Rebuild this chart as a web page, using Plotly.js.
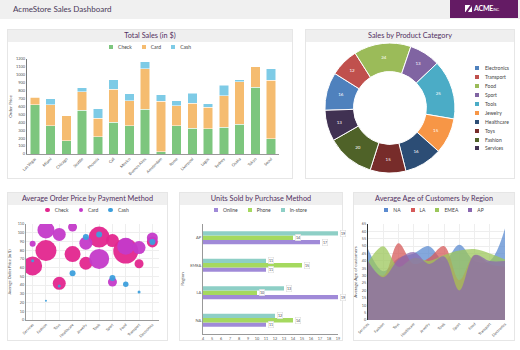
<!DOCTYPE html>
<html><head><meta charset="utf-8">
<script src="https://cdn.plot.ly/plotly-3.0.1.min.js"></script>
<style>
body{margin:0;width:520px;height:350px;background:#fff;font-family:Lato,"Open Sans",sans-serif;position:relative;overflow:hidden}
#header{position:absolute;left:0;top:0;width:520px;height:19px;background:#f0f0f0}
#header .t{position:absolute;left:13px;top:4px;font-size:8px;color:#4a3a5a}
#logo{position:absolute;left:450px;top:0;width:68px;height:18px;background:#641b64;color:#fff;font-size:7px;font-weight:bold}
#logo .ic{position:absolute;left:15px;top:5px;width:7px;height:7px;background:#fff}
#logo .ic:after{content:"";position:absolute;left:3px;top:-1px;width:1.5px;height:9px;background:#641b64;transform:rotate(35deg)}
#logo .tx{position:absolute;left:24px;top:4px;letter-spacing:-0.2px}
#logo .tx small{font-size:3.5px;font-weight:normal}
.panel{position:absolute;border:1px solid #e6e6e6;background:#fff;box-sizing:border-box}
.ptitle{height:12px;background:#efefef;text-align:center;font-size:7.3px;line-height:12px;color:#52305f}
.chart{position:absolute}
.leg{position:absolute;display:flex;font-size:5px;color:#444;align-items:center;white-space:nowrap}
.leg .it{display:flex;align-items:center;margin:0 5px}
.leg .mk{width:4px;height:4px;margin-right:5px}
.leg .mk.c{border-radius:50%;width:4.5px;height:4.5px}
.vleg{position:absolute;font-size:5px;color:#444}
.vleg .it{display:flex;align-items:center;height:8.9px}
.vleg .mk{width:4px;height:4px;margin-right:6px}
</style></head>
<body>
<div id="header"><div class="t">AcmeStore Sales Dashboard</div>
<div id="logo"><div class="ic"></div><div class="tx">ACME<small>INC.</small></div></div></div>

<div class="panel" style="left:7px;top:29px;width:286px;height:150px"><div class="ptitle">Total Sales (in $)</div></div>
<div class="panel" style="left:305px;top:29px;width:210px;height:150px"><div class="ptitle">Sales by Product Category</div></div>
<div class="panel" style="left:7px;top:192px;width:161px;height:149px"><div class="ptitle">Average Order Price by Payment Method</div></div>
<div class="panel" style="left:179px;top:192px;width:164px;height:149px"><div class="ptitle">Units Sold by Purchase Method</div></div>
<div class="panel" style="left:353px;top:192px;width:162px;height:149px"><div class="ptitle">Average Age of Customers by Region</div></div>

<div id="c1" class="chart" style="left:8px;top:41px;width:284px;height:137px"></div>
<div id="c2" class="chart" style="left:306px;top:41px;width:208px;height:137px"></div>
<div id="c3" class="chart" style="left:7px;top:206px;width:160px;height:134px"></div>
<div id="c4" class="chart" style="left:179px;top:205px;width:172px;height:135px"></div>
<div id="c5" class="chart" style="left:353px;top:205px;width:162px;height:135px"></div>

<div id="l1" class="leg" style="left:8px;width:284px;top:44px;justify-content:center"></div>
<div id="l2" class="vleg" style="left:475px;top:64px"></div>
<div id="l3" class="leg" style="left:7px;width:160px;top:207px;justify-content:center"></div>
<div id="l4" class="leg" style="left:179px;width:163px;top:207px;justify-content:center"></div>
<div id="l5" class="leg" style="left:353px;width:162px;top:207px;justify-content:center"></div>

<script>
// ---- Total Sales ----
var cities = ['Las Vegas','Miami','Chicago','Seattle','Phoenix','Cali','Mexico','Buenos Aires','Amsterdam','Rome','Liverpool','Lagos','Sydney','Osaka','Tokyo','Seoul'];
var checkSales = [620,360,170,550,220,400,360,565,30,355,325,320,340,375,845,195];
var cardSales  = [100,260,315,235,230,420,310,515,635,255,315,270,395,535,255,735];
var cashSales  = [5,80,0,50,120,120,90,85,85,65,130,45,135,25,0,145];

// ---- Sales by Product Category ----
var categories = ['Electronics','Transport','Food','Sport','Tools','Jewelry','Healthcare','Toys','Fashion','Services'];
var categorySales = [16,12,24,13,25,15,16,15,20,13];

// ---- Average Order Price by Payment Method ----
var products = ['Services','Fashion','Toys','Healthcare','Jewelry','Tools','Sport','Food','Transport','Electronics'];
var checkPrice = [62,79.5,42,75.5,65,95,91,79,64.5,89.5];
var cardPrice  = [87.5,103,98,106.5,88,70,43.5,84.5,83,94];
var cashPrice  = [68,22,39,53.5,95,98,48,41,32,89.5];
var checkOrders = [19,21,13,16,13,21,13,25,9,11];
var cardOrders  = [6,17,13,9,13,20,9,17,13,11];
var cashOrders  = [3,2,3,6,6,6,6,5.5,3,6];

// ---- Units Sold by Purchase Method ----
var regions = ['NA','LA','EMEA','AP'];
var onlineUnits  = [11,19,11,17];
var phoneUnits   = [14,10,15,14];
var instoreUnits = [12,13,11,19];

// ---- Average Age of Customers by Region ----
var ageNA   = [48,33,42,45,50,40,51,40,40,62];
var ageLA   = [38,30,52,38,42,50,27,44,38,36];
var ageEMEA = [39,50,36,42,40,44,47,48,45,41];
var ageAP   = [40,29,41,46,38,43,20,44,40,40];

var FONT = 'Lato, Open Sans, sans-serif';
var cfg = {staticPlot:true, displayModeBar:false};
var clear = 'rgba(0,0,0,0)';

function legend(id, names, colors, circle){
  var el = document.getElementById(id);
  names.forEach(function(n,i){
    var it = document.createElement('div'); it.className='it';
    var mk = document.createElement('span'); mk.className='mk'+(circle?' c':''); mk.style.background=colors[i];
    var tx = document.createElement('span'); tx.textContent=n;
    it.appendChild(mk); it.appendChild(tx); el.appendChild(it);
  });
}

// Chart 1
var c1col = ['#7dc67e','#f5bc70','#7ecbe6'];
Plotly.newPlot('c1', [
  {type:'bar', name:'Check', x:cities, y:checkSales, marker:{color:c1col[0], line:{color:'#fff',width:0.5}}},
  {type:'bar', name:'Card', x:cities, y:cardSales, marker:{color:c1col[1], line:{color:'#fff',width:0.5}}},
  {type:'bar', name:'Cash', x:cities, y:cashSales, marker:{color:c1col[2], line:{color:'#fff',width:0.5}}}
], {
  width:284, height:137, margin:{l:19,r:13,t:18,b:24}, barmode:'stack', bargap:0.4, showlegend:false,
  paper_bgcolor:clear, plot_bgcolor:clear, font:{family:FONT,size:4.5,color:'#555'},
  xaxis:{tickangle:-45, tickfont:{size:4}, showline:true, linecolor:'#999', linewidth:1, ticks:'', automargin:false, fixedrange:true},
  yaxis:{range:[0,1200], dtick:100, showgrid:false, showline:true, linecolor:'#777', linewidth:1, zeroline:false, tickfont:{size:4}, ticks:'',
         title:{text:'Order Price', font:{size:4.5}}, automargin:false}
}, cfg);
legend('l1', ['Check','Card','Cash'], c1col, false);

// Chart 2
var c2col = ['#4f81bd','#c0504d','#9bbb59','#8064a2','#4bacc6','#f79646','#2c4d75','#772c2a','#4f6228','#403152'];
Plotly.newPlot('c2', [{
  type:'pie', labels:categories, values:categorySales, hole:0.56, sort:false, direction:'clockwise', rotation:-92,
  marker:{colors:c2col, line:{color:'#fff', width:1}}, textinfo:'value', textposition:'inside',
  insidetextorientation:'horizontal', textfont:{size:4.5, color:'#fff', family:FONT},
  domain:{x:[0.091,0.716], y:[0.036,0.985]}
}], {width:208, height:137, margin:{l:0,r:0,t:0,b:0}, showlegend:false, paper_bgcolor:clear}, cfg);
legend('l2', categories, c2col, false);

// Chart 3
var c3col = ['#e3268e','#c43ac9','#3d9fdc'];
function bub(name, y, s, c){ return {type:'scatter', mode:'markers', name:name, x:products, y:y,
  marker:{size:s, sizemode:'diameter', sizeref:1, color:c, opacity:0.95, line:{width:0}}}; }
Plotly.newPlot('c3', [
  bub('Check', checkPrice, checkOrders, c3col[0]),
  bub('Card', cardPrice, cardOrders, c3col[1]),
  bub('Cash', cashPrice, cashOrders, c3col[2])
], {
  width:160, height:134, margin:{l:19,r:8,t:18,b:20}, showlegend:false,
  paper_bgcolor:clear, plot_bgcolor:clear, font:{family:FONT,size:4.5,color:'#555'},
  xaxis:{range:[-0.5,9.5], tickangle:-45, tickfont:{size:3.8}, showgrid:true, gridcolor:'#eeeeee', showline:true, linecolor:'#999', ticks:'', automargin:false},
  yaxis:{range:[0,110], dtick:10, tickfont:{size:3.8}, showgrid:true, gridcolor:'#eeeeee', showline:true, linecolor:'#999', zeroline:false, ticks:'',
         title:{text:'Average Order Price (in $)', font:{size:4}}, automargin:false}
}, cfg);
legend('l3', ['Check','Card','Cash'], c3col, true);

// Chart 4
var c4col = ['#a08ad8','#a5d95f','#8ecfc6'];
var c4names = ['Online','Phone','In-store'];
var c4data = [onlineUnits, phoneUnits, instoreUnits];
function hb(name, x, c){ return {type:'bar', orientation:'h', name:name, x:x, y:regions, marker:{color:c}}; }
var barPx = 4.4; // bar thickness in pixels within a group
var anns = [];
c4data.forEach(function(arr, t){
  arr.forEach(function(v, i){
    anns.push({xref:'x', yref:'y', x:v, y:regions[i], text:String(v), showarrow:false, xanchor:'left', xshift:1.5,
      yshift:(t-1)*barPx, font:{size:3.6, color:'#444'}, bgcolor:'#fff', bordercolor:'#d8d8d8', borderwidth:0.5, borderpad:0.5});
  });
});
Plotly.newPlot('c4', c4data.map(function(a,t){ return hb(c4names[t], a, c4col[t]); }), {
  width:172, height:135, margin:{l:24,r:13,t:19,b:6}, barmode:'group', bargap:0.52, showlegend:false,
  paper_bgcolor:clear, plot_bgcolor:clear, font:{family:FONT,size:4.5,color:'#555'},
  annotations:anns,
  xaxis:{range:[4,19], dtick:1, tickfont:{size:3.8}, showgrid:false, showline:true, linecolor:'#999', zeroline:false, ticks:'', automargin:false},
  yaxis:{tickfont:{size:4}, showline:true, linecolor:'#999', ticks:'', automargin:false,
         title:{text:'Region', font:{size:4.5}}}
}, cfg);
legend('l4', c4names, c4col, false);

// Chart 5
var c5col = ['#5b8bd0','#d65a5a','#9cc75b','#8a68b0'];
var c5fill = ['rgba(91,139,208,0.75)','rgba(214,90,90,0.75)','rgba(156,199,91,0.75)','rgba(138,104,176,0.72)'];
function ar(name, y, i){ return {type:'scatter', mode:'lines', name:name, x:products, y:y, fill:'tozeroy',
  line:{shape:'spline', width:0, color:c5col[i]}, fillcolor:c5fill[i]}; }
Plotly.newPlot('c5', [
  ar('NA', ageNA, 0), ar('LA', ageLA, 1), ar('EMEA', ageEMEA, 2), ar('AP', ageAP, 3)
], {
  width:162, height:135, margin:{l:15,r:10,t:19,b:20}, showlegend:false,
  paper_bgcolor:clear, plot_bgcolor:clear, font:{family:FONT,size:4.5,color:'#555'},
  xaxis:{range:[0,9], tickangle:-45, tickfont:{size:3.8}, showgrid:true, gridcolor:'#eeeeee', showline:false, ticks:'', automargin:false},
  yaxis:{range:[0,65], dtick:5, tickfont:{size:3.8}, showgrid:true, gridcolor:'#eeeeee', showline:true, linecolor:'#333', linewidth:1, zeroline:false, ticks:'',
         title:{text:'Average Age of customers', font:{size:4.5}}, automargin:false}
}, cfg);
legend('l5', ['NA','LA','EMEA','AP'], c5col, false);
</script>
</body></html>
